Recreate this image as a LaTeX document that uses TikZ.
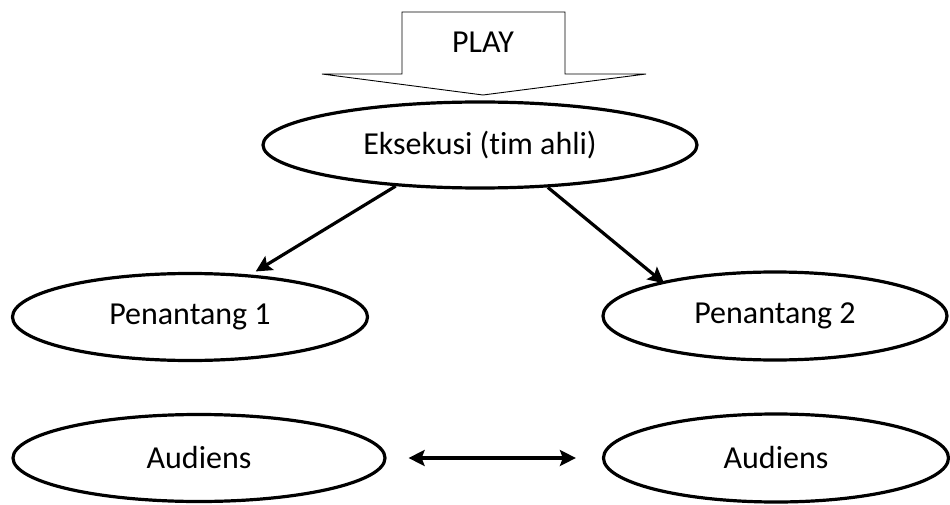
\documentclass[tikz,border=0pt]{standalone}
\usepackage{fontspec}
\setmainfont{Carlito}[Ligatures=NoCommon]
\usetikzlibrary{shapes.geometric,arrows.meta}

\tikzset{
  oval/.style={ellipse, draw=black, line width=3.2pt, fill=white,
    font=\fontsize{32}{38}\selectfont, inner sep=0pt},
  link/.style={line width=3.2pt, -{Stealth[length=16pt,width=16pt,inset=3pt]}},
  bothways/.style={line width=3.2pt, {Stealth[length=16pt,width=16pt,inset=3pt]}-{Stealth[length=16pt,width=16pt,inset=3pt]}},
  bigarrow/.style={draw=black, line width=0.9pt, fill=white, line join=miter},
  label/.style={font=\fontsize{32}{38}\selectfont, inner sep=0pt}
}

\begin{document}
\begin{tikzpicture}[x=1pt,y=-1pt]
  \useasboundingbox (0,0) rectangle (950,505);

  % block arrow pointing down onto the top oval
  \coordinate (sl) at (402,12);
  \coordinate (sr) at (565,12);
  \coordinate (tip) at (483,95);
  \draw[bigarrow] (sl) -- (sr) -- (565,74) -- (646,74) -- (tip)
    -- (322,74) -- (402,74) -- cycle;
  \node[label] (play) at (483,42) {PLAY};

  % ovals
  \node[oval, minimum width=434pt, minimum height=86pt] (exec) at (480,145) {Eksekusi (tim ahli)};
  \node[oval, minimum width=355pt, minimum height=87pt] (p1) at (190,317) {Penantang 1};
  \node[oval, minimum width=344pt, minimum height=88pt] (p2) at (775,316) {Penantang 2};
  \node[oval, minimum width=372pt, minimum height=87pt] (a1) at (199,458) {Audiens};
  \node[oval, minimum width=345pt, minimum height=88pt] (a2) at (776,458) {Audiens};

  % connectors
  \draw[link, shorten >=6pt] (exec.206) -- (p1.35);
  \draw[link, shorten >=-3pt] (exec.328) -- (p2.163);
  \draw[bothways, shorten <=22pt, shorten >=26pt] (a1.east) -- (a2.west);
\end{tikzpicture}
\end{document}
